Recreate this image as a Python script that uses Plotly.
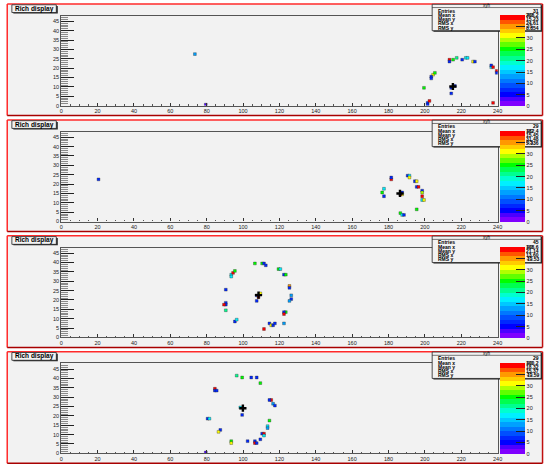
import plotly.graph_objects as go

W, H = 551, 466
ZMAX = 40

# bin contents (x bin, y bin, content)
p1_x = [73, 79, 213, 213, 215, 217, 220, 222, 223, 226, 227, 236, 236, 237, 239, 239, 204, 205, 203, 203, 199, 214, 216, 214, 201, 202, 201, 237]
p1_y = [27, 0, 24, 23, 24, 25, 24, 25, 25, 23, 23, 20, 21, 20, 18, 17, 16, 17, 15, 14, 9, 9, 10, 6, 1, 2, 0, 1]
p1_z = [12, 3, 39, 7, 24, 20, 7, 16, 16, 31, 7, 16, 7, 39, 39, 7, 31, 24, 7, 7, 24, 7, 7, 7, 7, 39, 7, 39]

p2_x = [20, 181, 181, 190, 191, 191, 194, 195, 195, 196, 198, 198, 198, 198, 199, 195, 186, 187, 188, 177, 176, 177, 187, 187, 186]
p2_y = [22, 22, 23, 24, 24, 23, 21, 21, 18, 18, 16, 15, 13, 11, 11, 6, 4, 3, 3, 17, 15, 13, 15, 14, 14]
p2_z = [7, 39, 7, 7, 16, 31, 7, 31, 7, 39, 7, 28, 39, 16, 31, 24, 24, 16, 7, 16, 24, 7, 7, 31, 39]

p3_x = [106, 110, 111, 112, 119, 120, 122, 123, 125, 125, 126, 126, 125, 123, 122, 122, 122, 114, 115, 116, 117, 111, 95, 96, 90, 90, 90, 89, 90, 93, 94, 95, 93, 107, 109, 108, 107]
p3_y = [39, 39, 39, 38, 36, 36, 33, 33, 27, 26, 22, 20, 19, 13, 13, 12, 7, 7, 6, 6, 7, 4, 8, 9, 14, 18, 17, 17, 25, 33, 34, 35, 32, 22, 23, 21, 19]
p3_z = [24, 24, 7, 7, 24, 16, 7, 24, 34, 7, 12, 7, 12, 24, 7, 39, 12, 7, 31, 7, 7, 39, 7, 16, 20, 7, 7, 39, 7, 16, 39, 24, 16, 7, 31, 39, 7]

p4_x = [96, 99, 104, 107, 109, 84, 84, 85, 115, 114, 116, 117, 98, 99, 114, 80, 81, 113, 113, 87, 86, 110, 111, 111, 109, 106, 106, 107, 102, 93, 93, 79]
p4_y = [41, 40, 40, 40, 37, 34, 33, 33, 28, 28, 26, 25, 24, 20, 17, 18, 18, 14, 13, 12, 11, 10, 10, 9, 7, 6, 5, 5, 6, 6, 5, 0]
p4_z = [20, 24, 7, 7, 24, 39, 7, 7, 39, 7, 12, 7, 16, 7, 24, 7, 16, 16, 12, 7, 31, 7, 39, 16, 7, 7, 39, 7, 7, 24, 31, 3]

# ring centres (black markers)
center_x = [215.4, 186.3, 108.5, 99.9]
center_y = [10.2, 15.0, 22.6, 24.1]

# stats boxes
stat_names = ["Entries", "Mean x", "Mean y", "RMS x", "RMS y"]
stat_values = [
    ["31", "208.2", "15.23", "24.61", "8.854"],
    ["29", "182.4", "15.45", "31.48", "5.336"],
    ["45", "108.6", "21.14", "13.60", "11.53"],
    ["29", "100.2", "18.32", "15.37", "11.59"],
]

x_ticks = list(range(0, 241, 20))
y_ticks = list(range(0, 46, 5))
z_ticks = list(range(0, 41, 5))

palette = ["#7f00ff", "#4c00ff", "#0000ff", "#0028ff", "#0050ff", "#0078ff", "#00a0ff",
           "#00c8ff", "#00f0ff", "#00ffd0", "#00ff90", "#00ff50", "#00ff00", "#60ff00",
           "#b0ff00", "#ffff00", "#ffcc00", "#ff9900", "#ff5500", "#ff0000"]
colorscale = []
n = len(palette)
for i, c in enumerate(palette):
    colorscale.append([i / n, c])
    colorscale.append([(i + 1) / n, c])

panels = [(p1_x, p1_y, p1_z), (p2_x, p2_y, p2_z), (p3_x, p3_y, p3_z), (p4_x, p4_y, p4_z)]


def fx(v):
    return v / W


def fy(v):
    return 1 - v / H


PERIOD = 350 / 3
T0 = 3.3
FL, FR = 60, 502
FT, FB = 12.5, 103
BG = "#f2f2f2"
FONT = "Liberation Sans"

fig = go.Figure()
shapes = []
annotations = []
layout = {}

for k, (hx, hy, hz) in enumerate(panels):
    T = T0 + PERIOD * k
    suf = "" if k == 0 else str(k + 1)
    # panel background and border
    shapes.append(dict(type="rect", xref="paper", yref="paper", x0=fx(5.3), x1=fx(547.5),
                       y0=fy(T + 113), y1=fy(T + 0.7), fillcolor=BG, line=dict(width=0), layer="below"))
    shapes.append(dict(type="line", xref="paper", yref="paper", x0=fx(5.3), x1=fx(547.5),
                       y0=fy(T + 0.7), y1=fy(T + 0.7), line=dict(color="#ff2a2a", width=1.5)))
    shapes.append(dict(type="line", xref="paper", yref="paper", x0=fx(5.3), x1=fx(5.3),
                       y0=fy(T + 0.7), y1=fy(T + 113), line=dict(color="#ff2a2a", width=1.5)))
    shapes.append(dict(type="line", xref="paper", yref="paper", x0=fx(5.3), x1=fx(547.5),
                       y0=fy(T + 113), y1=fy(T + 113), line=dict(color="#a80000", width=1.5)))
    shapes.append(dict(type="line", xref="paper", yref="paper", x0=fx(547.5), x1=fx(547.5),
                       y0=fy(T + 0.7), y1=fy(T + 113), line=dict(color="#c01010", width=1.5)))

    # hit bins drawn as small square cells centred in their bins
    fig.add_trace(go.Scatter(
        x=[a + 0.5 for a in hx], y=[b + 0.5 for b in hy], mode="markers",
        marker=dict(symbol="square", size=2.8, color=hz, coloraxis="coloraxis" + suf,
                    line=dict(width=0.5, color="rgba(40,40,40,0.7)")),
        xaxis="x" + suf, yaxis="y" + suf, showlegend=False, hoverinfo="skip"))
    fig.add_trace(go.Scatter(x=[center_x[k]], y=[center_y[k]], mode="markers",
                             marker=dict(symbol="cross", size=6, color="black"),
                             xaxis="x" + suf, yaxis="y" + suf, showlegend=False, hoverinfo="skip"))

    layout["xaxis" + suf] = dict(
        domain=[fx(FL), fx(FR)], range=[0, 240], anchor="y" + suf,
        tickvals=x_ticks, ticktext=[str(v) for v in x_ticks], ticks="inside", ticklen=3,
        tickcolor="#333", tickwidth=1, minor=dict(dtick=5, ticks="inside", ticklen=1.5, tickcolor="#555"),
        showline=True, linecolor="#555", linewidth=1.2, mirror=True, showgrid=False, zeroline=False,
        tickfont=dict(size=5.5, family=FONT, color="#222"), fixedrange=True)
    layout["yaxis" + suf] = dict(
        domain=[fy(T + FB), fy(T + FT)], range=[0, 48], anchor="x" + suf,
        tickvals=y_ticks, ticktext=[str(v) for v in y_ticks], ticks="inside", ticklen=13,
        tickcolor="#222", tickwidth=1,
        minor=dict(dtick=1, ticks="inside", ticklen=7, tickcolor="#8a8a8a", tickwidth=1),
        showline=True, linecolor="#555", linewidth=1.2, mirror=True, showgrid=False, zeroline=False,
        tickfont=dict(size=5.5, family=FONT, color="#222"), fixedrange=True)
    layout["coloraxis" + suf] = dict(
        cmin=0, cmax=ZMAX, colorscale=colorscale,
        colorbar=dict(x=fx(504.3), xanchor="left", xpad=0, y=fy(T + (FT + FB) / 2), yanchor="middle",
                      ypad=0, len=FB - FT, lenmode="pixels", thickness=25, thicknessmode="pixels",
                      tickvals=z_ticks, ticktext=[str(v) for v in z_ticks], ticks="inside", ticklen=9,
                      tickcolor="#222", tickwidth=1, outlinewidth=0,
                      tickfont=dict(size=5.5, family=FONT, color="#222")))

    # "Rich display" label
    shapes.append(dict(type="rect", xref="paper", yref="paper", x0=fx(11.5), x1=fx(56.5),
                       y0=fy(T + 10.3), y1=fy(T + 2.8), fillcolor="#222", line=dict(width=0)))
    shapes.append(dict(type="rect", xref="paper", yref="paper", x0=fx(10), x1=fx(55),
                       y0=fy(T + 9.3), y1=fy(T + 1.5), fillcolor=BG, line=dict(color="#222", width=0.8)))
    annotations.append(dict(text="<b>Rich display</b>", xref="paper", yref="paper", x=fx(32.5),
                            y=fy(T + 5.4), xanchor="center", yanchor="middle", showarrow=False,
                            font=dict(size=6.5, family=FONT, color="#000")))

    # stats box
    shapes.append(dict(type="rect", xref="paper", yref="paper", x0=fx(437), x1=fx(547),
                       y0=fy(T + 28.6), y1=fy(T + 2), fillcolor="#222", line=dict(width=0)))
    shapes.append(dict(type="rect", xref="paper", yref="paper", x0=fx(435.7), x1=fx(546),
                       y0=fy(T + 27.6), y1=fy(T + 1), fillcolor=BG, line=dict(color="#222", width=0.8)))
    shapes.append(dict(type="line", xref="paper", yref="paper", x0=fx(435.7), x1=fx(546),
                       y0=fy(T + 4.3), y1=fy(T + 4.3), line=dict(color="#222", width=0.6)))
    annotations.append(dict(text="xyh", xref="paper", yref="paper", x=fx(491), y=fy(T + 2.6),
                            xanchor="center", yanchor="middle", showarrow=False,
                            font=dict(size=4.5, family=FONT, color="#000")))
    rows = [7.3, 11.6, 16.2, 20.2, 24.4]
    for name, val, r in zip(stat_names, stat_values[k], rows):
        annotations.append(dict(text="<b>" + name + "</b>", xref="paper", yref="paper", x=fx(440),
                                y=fy(T + r), xanchor="left", yanchor="middle", showarrow=False,
                                font=dict(size=5, family=FONT, color="#000")))
        annotations.append(dict(text="<b>" + val + "</b>", xref="paper", yref="paper", x=fx(545.5),
                                y=fy(T + r), xanchor="right", yanchor="middle", showarrow=False,
                                font=dict(size=5, family=FONT, color="#000")))

fig.update_layout(
    width=W, height=H, margin=dict(l=0, r=0, t=0, b=0, pad=0),
    paper_bgcolor="white", plot_bgcolor=BG, showlegend=False,
    shapes=shapes, annotations=annotations, **layout)

fig.write_html("out.html", config=dict(displayModeBar=False),
               post_script="document.body.style.margin='0px';document.body.style.padding='0px';")
